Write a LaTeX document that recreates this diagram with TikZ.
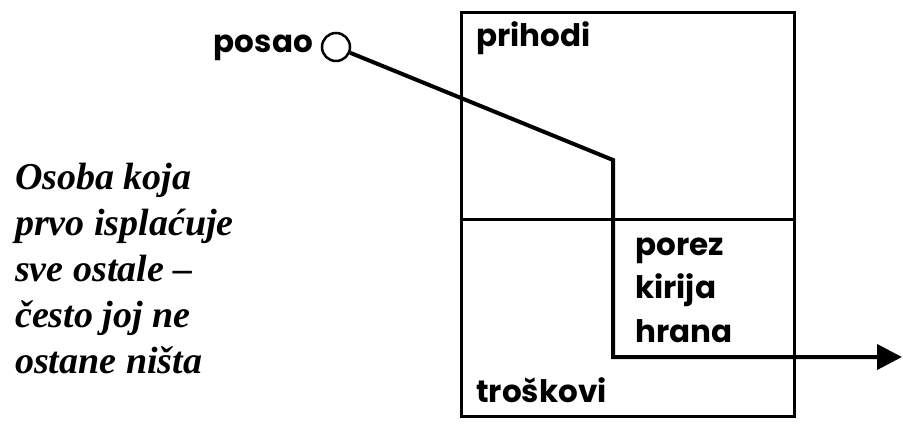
\documentclass[tikz,border=0pt]{standalone}
\usepackage{fontspec}
\usetikzlibrary{arrows.meta}
\newfontfamily\geo{Poppins}[UprightFont=* Bold,BoldFont=* Bold]
\newfontfamily\tms{Liberation Serif}
\tikzset{
  lbl/.style={font=\geo\fontsize{31}{34}\selectfont, inner sep=0pt},
  note/.style={font=\tms\bfseries\itshape\fontsize{38}{46}\selectfont, inner sep=0pt, align=left},
  frame/.style={line width=3pt},
  flow/.style={line width=4pt, line join=miter}
}
\begin{document}
\begin{tikzpicture}[x=1pt,y=-1pt]
\useasboundingbox (0,0) rectangle (903,428);
% box
\node[frame, draw, minimum width=333pt, minimum height=403pt, inner sep=0pt] (box) at (627.5,214.5) {};
\coordinate (dl) at (461,219);
\coordinate (dr) at (794,219);
\draw[frame] (dl) -- (dr);
% labels
\node[lbl, anchor=base east] (posaolbl) at (313,53) {posao};
\node[lbl, anchor=base west] (prihodi) at (476,47) {prihodi};
\node[lbl, anchor=base west] (porez) at (635,255) {porez};
\node[lbl, anchor=base west] (kirija) at (635,298) {kirija};
\node[lbl, anchor=base west] (hrana) at (635,342) {hrana};
\node[lbl, anchor=base west] (troskovi) at (476,402) {troškovi};
% note
\node[note, anchor=base west] (note) at (15,373) {Osoba koja\\prvo isplaćuje\\sve ostale –\\često joj ne\\ostane ništa};
% flow
\node[draw, circle, line width=2.5pt, minimum size=28pt, inner sep=0pt] (posao) at (336,47) {};
\coordinate (k1) at (613,160);
\coordinate (k2) at (613,357);
\coordinate (tip) at (902,357);
\draw[flow, -{Triangle[length=25pt,width=25pt]}] (posao) -- (k1) -- (k2) -- (tip);
\end{tikzpicture}
\end{document}
